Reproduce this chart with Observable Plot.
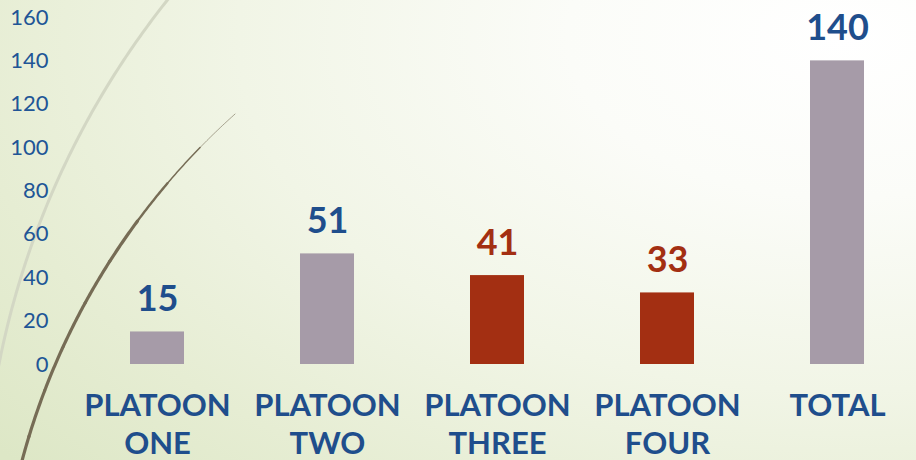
<!DOCTYPE html>
<html>
<head>
<meta charset="utf-8">
<script src="https://cdn.jsdelivr.net/npm/d3@7"></script>
<script src="https://cdn.jsdelivr.net/npm/@observablehq/plot@0.6"></script>
<style>
  html, body { margin: 0; padding: 0; }
  #wrap {
    position: relative; width: 916px; height: 460px; overflow: hidden;
    background: radial-gradient(ellipse 120% 140% at 92% 8%, #ffffff 0%, #fbfcf8 25%, #f1f5e6 55%, #e6edd3 80%, #dde7c6 100%);
  }
  #deco { position: absolute; left: 0; top: 0; }
  #chart { position: absolute; left: 0; top: 0; }
</style>
</head>
<body>
<div id="wrap">
  <svg id="deco" width="916" height="460"></svg>
  <div id="chart"></div>
</div>
<script>
const categories = ["PLATOON ONE", "PLATOON TWO", "PLATOON THREE", "PLATOON FOUR", "TOTAL"];
const tickLabels = ["PLATOON\nONE", "PLATOON\nTWO", "PLATOON\nTHREE", "PLATOON\nFOUR", "TOTAL"];
const values = [15, 51, 41, 33, 140];
const groups = ["grey", "grey", "red", "red", "grey"];
const yTicks = [0, 20, 40, 60, 80, 100, 120, 140, 160];

const barColors = {grey: "#a69ba8", red: "#a32f12"};
const labelColors = {grey: "#1f4e8c", red: "#a32f12"};

const data = categories.map((c, i) => ({category: c, value: values[i], group: groups[i]}));
const labelOf = new Map(categories.map((c, i) => [c, tickLabels[i]]));

// decorative background arcs
(function () {
  const svg = d3.select("#deco");
  function arcPts(cx, cy, r, a0, a1, n) {
    const pts = [];
    for (let i = 0; i <= n; i++) {
      const a = a0 + (a1 - a0) * i / n;
      pts.push([cx + r * Math.cos(a), cy + r * Math.sin(a)]);
    }
    return pts;
  }
  const line = d3.line();
  const norm = (a) => (a < 0 ? a + 2 * Math.PI : a);
  // light arc
  const lc = [831, 528, 848];
  const la0 = norm(Math.atan2(-560, 180 - 831)), la1 = norm(Math.atan2(220, -840));
  svg.append("path").attr("d", line(arcPts(lc[0], lc[1], lc[2], la0, la1, 200)))
    .attr("fill", "none").attr("stroke", "#d3d7c4").attr("stroke-width", 3);
  // dark arc (tapered at top)
  const dc = [709, 644, 711];
  const A0 = norm(Math.atan2(114 - 644, 235 - 709));
  const A1 = norm(Math.atan2(80, -707));
  const segs = 14;
  for (let s = 0; s < segs; s++) {
    const t0 = s / segs, t1 = (s + 1) / segs;
    const w = Math.min(3.2, 0.6 + s * 0.9);
    svg.append("path")
      .attr("d", line(arcPts(dc[0], dc[1], dc[2], A0 + (A1 - A0) * t0, A0 + (A1 - A0) * t1, 20)))
      .attr("fill", "none").attr("stroke", "#766c55").attr("stroke-width", w)
      .attr("stroke-linecap", "round");
  }
})();

const chart = Plot.plot({
  width: 916,
  height: 460,
  marginTop: 17,
  marginBottom: 96,
  marginLeft: 71,
  marginRight: 0,
  style: {background: "transparent", overflow: "visible"},
  x: {domain: categories, range: [71, 923], paddingInner: 0.683, paddingOuter: 0.3415, axis: null},
  y: {domain: [0, 160], axis: null},
  marks: [
    Plot.ruleY(yTicks, {x1: 71, x2: 916, stroke: "#d8d8db", strokeWidth: 2}),
    Plot.axisY({
      ticks: yTicks, tickSize: 0, tickPadding: 23,
      fontSize: 22, fill: "#215596", label: null,
      fontFamily: "Lato", fontWeight: 400
    }),
    Plot.axisX({
      tickSize: 0, tickPadding: 24, label: null,
      tickFormat: (d) => labelOf.get(d),
      fontSize: 31, fontWeight: 700, fill: "#1f4e8c",
      fontFamily: "Lato", lineHeight: 1.23
    }),
    Plot.barY(data, {x: "category", y: "value", fill: (d) => barColors[d.group]}),
    Plot.text(data, {
      x: "category", y: "value", text: (d) => String(d.value),
      fill: (d) => labelColors[d.group], fontSize: 36, fontWeight: 700,
      fontFamily: "Lato", lineAnchor: "bottom", dy: -21
    })
  ]
});
document.getElementById("chart").appendChild(chart);
</script>
</body>
</html>
